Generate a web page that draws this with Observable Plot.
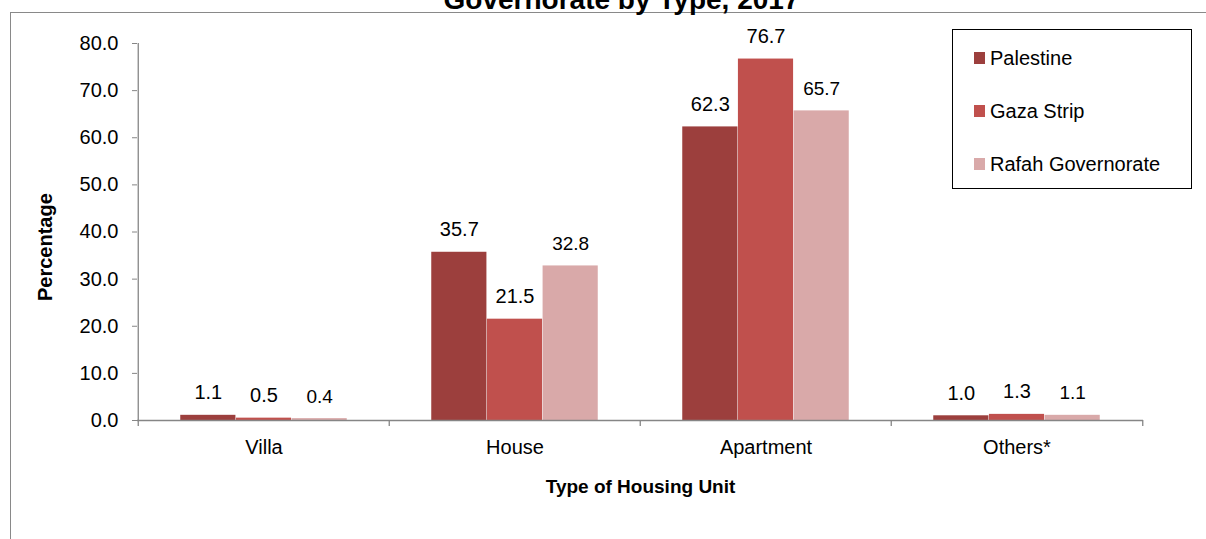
<!DOCTYPE html>
<html>
<head>
<meta charset="utf-8">
<script src="https://cdn.jsdelivr.net/npm/d3@7"></script>
<script src="https://cdn.jsdelivr.net/npm/@observablehq/plot@0.6"></script>
<style>
  html, body { margin: 0; padding: 0; background: white; overflow: hidden; }
  #wrap { position: relative; width: 1206px; height: 539px; overflow: hidden; font-family: "Liberation Sans", Arial, sans-serif; }
  #border { position: absolute; left: 10px; top: 12px; width: 1300px; height: 600px; border-left: 1.5px solid #898989; border-top: 1.5px solid #898989; box-sizing: border-box; }
  #chart { position: absolute; left: 0; top: 0; }
  #legend { position: absolute; left: 952px; top: 29px; width: 240px; height: 160px; border: 1.5px solid #000; box-sizing: border-box; background: white; }
  .item { position: absolute; left: 21px; display: flex; align-items: center; font-size: 20px; color: #000; height: 24px; }
  .sw { width: 11px; height: 12px; margin-right: 5px; }
</style>
</head>
<body>
<div id="wrap">
  <div id="border"></div>
  <div id="chart"></div>
  <div id="legend"></div>
</div>
<script>
const categories = ["Villa", "House", "Apartment", "Others*"];
const seriesNames = ["Palestine", "Gaza Strip", "Rafah Governorate"];
const palestine = [1.1, 35.7, 62.3, 1.0];
const gaza = [0.5, 21.5, 76.7, 1.3];
const rafah = [0.4, 32.8, 65.7, 1.1];
const yTicks = [0, 10, 20, 30, 40, 50, 60, 70, 80];
const colors = ["#9c3f3d", "#c0504d", "#d9a9a9"];
const titleText = "Governorate by Type, 2017";
const xTitle = "Type of Housing Unit";
const yTitle = "Percentage";

const seriesValues = [palestine, gaza, rafah];
const rows = categories.flatMap((c, i) =>
  seriesNames.map((s, j) => ({category: c, series: s, value: seriesValues[j][i], j}))
);

const W = 1206, H = 539;
const mL = 137, mR = 63, mT = 43, mB = 119;
const bw = (W - mL - mR) / categories.length;
const groupFrac = 0.664;
const pad = bw * (1 - groupFrac) / 2;
const barW = bw * groupFrac / seriesNames.length;
const axisColor = "#868686";

const marks = [];
seriesNames.forEach((s, j) => {
  const data = rows.filter(d => d.j === j);
  marks.push(Plot.barY(data, {
    x: "category", y: "value", fill: colors[j],
    insetLeft: pad + j * barW, insetRight: bw - pad - (j + 1) * barW
  }));
  marks.push(Plot.text(data, {
    x: "category", y: "value", text: d => d.value.toFixed(1),
    dx: pad + (j + 0.5) * barW - bw / 2, dy: -16, lineAnchor: "bottom",
    fontSize: j === 2 ? 19 : 20, fill: "#000"
  }));
});

marks.push(Plot.ruleY([0], {stroke: axisColor, strokeWidth: 1.3}));
marks.push(Plot.ruleX([categories[0]], {dx: -bw / 2, y1: 0, y2: 80, stroke: axisColor, strokeWidth: 1.3}));
marks.push(Plot.ruleX(categories, {x: d => d, y1: 0, y2: 0, insetBottom: -6, dx: -bw / 2, stroke: axisColor, strokeWidth: 1.3}));
marks.push(Plot.ruleX([categories[categories.length - 1]], {x: d => d, y1: 0, y2: 0, insetBottom: -6, dx: bw / 2, stroke: axisColor, strokeWidth: 1.3}));
marks.push(Plot.axisY({ticks: yTicks, tickFormat: d3.format(".1f"), tickSize: 5, tickPadding: 14, stroke: axisColor, fill: "#000", fontSize: 20, label: null}));
marks.push(Plot.axisX({tickSize: 0, tickPadding: 19, fill: "#000", fontSize: 20, label: null}));
marks.push(Plot.text([xTitle], {frameAnchor: "bottom", dy: 72, fontWeight: "bold", fontSize: 19, fill: "#000"}));
marks.push(Plot.text([yTitle], {frameAnchor: "left", dx: -92, dy: 69, rotate: -90, fontWeight: "bold", fontSize: 20, fill: "#000"}));
marks.push(Plot.text([titleText], {frameAnchor: "top", dx: -19, dy: -35, lineAnchor: "bottom", fontWeight: "bold", fontSize: 28, fill: "#000"}));

const chart = Plot.plot({
  width: W, height: H,
  marginLeft: mL, marginRight: mR, marginTop: mT, marginBottom: mB,
  style: {fontFamily: "'Liberation Sans', Arial, sans-serif", background: "transparent", overflow: "hidden"},
  x: {domain: categories, padding: 0, axis: null},
  y: {domain: [0, 80], axis: null},
  marks
});
document.getElementById("chart").appendChild(chart);

const legend = document.getElementById("legend");
const centers = [28, 81, 134];
seriesNames.forEach((s, j) => {
  const it = document.createElement("div");
  it.className = "item";
  it.style.top = (centers[j] - 12) + "px";
  const sw = document.createElement("div");
  sw.className = "sw";
  sw.style.background = colors[j];
  const t = document.createElement("span");
  t.textContent = s;
  it.appendChild(sw); it.appendChild(t);
  legend.appendChild(it);
});
</script>
</body>
</html>
